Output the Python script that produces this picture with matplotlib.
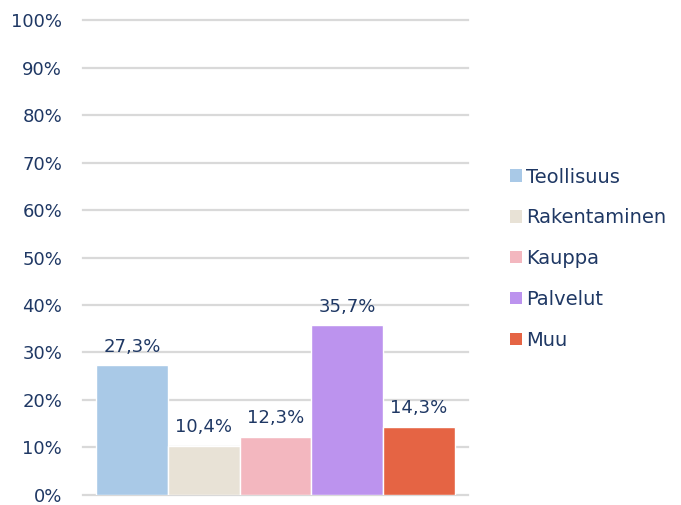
import matplotlib
matplotlib.use('Agg')
import matplotlib.pyplot as plt
from matplotlib.patches import Patch

categories = ['Teollisuus', 'Rakentaminen', 'Kauppa', 'Palvelut', 'Muu']
values = [27.3, 10.4, 12.3, 35.7, 14.3]
colors = ['#A9C9E7', '#E8E2D6', '#F3B7BF', '#BC93EE', '#E56444']
yticks = [0, 10, 20, 30, 40, 50, 60, 70, 80, 90, 100]

text_color = '#1F3864'
plt.rcParams['font.family'] = ['DejaVu Sans']

fig = plt.figure(figsize=(6.81, 5.05), dpi=100)
ax = fig.add_axes([0.122, 0.02, 0.565, 0.94])

x = list(range(len(values)))
bars = ax.bar(x, values, width=1.0, color=colors, edgecolor='white', linewidth=1, zorder=3)

for xi, v in zip(x, values):
    ax.annotate(('%.1f%%' % v).replace('.', ','), (xi, v), xytext=(0, 7),
                textcoords='offset points', ha='center', va='bottom',
                fontsize=13, color=text_color)

ax.set_xlim(-0.68, 4.68)
ax.set_ylim(0, 100)
ax.set_yticks(yticks)
ax.set_yticklabels(['%d%%' % t for t in yticks], fontsize=13, color=text_color)
ax.set_xticks([])
ax.tick_params(axis='y', length=0, pad=15)
ax.yaxis.grid(True, color='#D9D9D9', linewidth=1.6, zorder=0)
for gl in ax.get_ygridlines():
    gl.set_clip_on(False)
for s in ax.spines.values():
    s.set_visible(False)

handles = [Patch(facecolor=c, edgecolor='none') for c in colors]
leg = fig.legend(handles, categories, loc='center left', bbox_to_anchor=(0.723, 0.488),
                 frameon=False, fontsize=14, handlelength=0.6, handleheight=0.6,
                 handletextpad=0.25, labelspacing=1.12)
for t in leg.get_texts():
    t.set_color(text_color)

plt.savefig('out.png', dpi=100)
